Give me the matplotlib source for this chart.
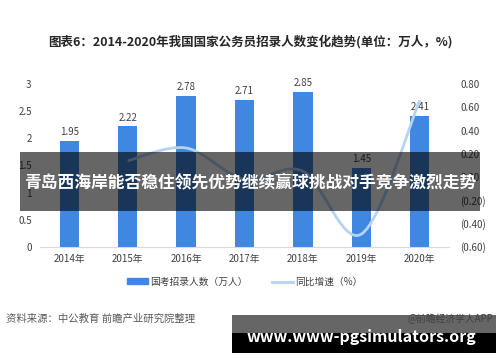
import matplotlib
matplotlib.use("Agg")
import matplotlib.pyplot as plt
import numpy as np
from matplotlib.path import Path
from matplotlib.patches import PathPatch, Rectangle
from matplotlib.ticker import FuncFormatter

plt.rcParams['font.family'] = ['Noto Sans CJK SC', 'DejaVu Sans']

# data
years = ['2014年', '2015年', '2016年', '2017年', '2018年', '2019年', '2020年']
hires = [1.95, 2.22, 2.78, 2.71, 2.85, 1.45, 2.41]
growth_years = [1, 2, 3, 4, 5, 6]          # growth rate starts from 2015
growth = [0.14, 0.25, -0.02, 0.05, -0.49, 0.66]

bar_color = '#3f87e0'
line_color = '#b5d4f5'
tick_color = '#404040'

fig = plt.figure(figsize=(5, 3.62), dpi=100)
ax = fig.add_axes([0.08, 0.318, 0.818, 0.45])
x = np.arange(len(years))
bars = ax.bar(x, hires, width=0.33, color=bar_color, zorder=2)
for xi, v in zip(x, hires):
    ax.text(xi, v + 0.07, '%.2f' % v, ha='center', va='bottom', fontsize=7, color=tick_color)

ax.set_xlim(-0.5, len(years) - 0.5)
ax.set_ylim(0, 3)
ax.set_yticks([0, 0.5, 1, 1.5, 2, 2.5, 3])
ax.set_yticklabels(['0', '0.5', '1', '1.5', '2', '2.5', '3'])
ax.set_xticks(x)
ax.set_xticklabels(years)
ax.tick_params(length=0, labelsize=7, colors=tick_color)
ax.tick_params(axis='y', pad=6)
ax.tick_params(axis='x', pad=5)
for s in ['top', 'right', 'left']:
    ax.spines[s].set_visible(False)
ax.spines['bottom'].set_color('#d9d9d9')

# smoothed growth line on the secondary axis (Catmull-Rom style bezier)
ax2 = ax.twinx()
ax2.set_ylim(-0.6, 0.8)
ax2.set_yticks([-0.6, -0.4, -0.2, 0, 0.2, 0.4, 0.6, 0.8])
ax2.yaxis.set_major_formatter(FuncFormatter(
    lambda v, p: '(%.2f)' % abs(v) if v < -1e-9 else '%.2f' % abs(v)))
ax2.tick_params(length=0, labelsize=7, colors=tick_color, pad=8)
for s in ax2.spines.values():
    s.set_visible(False)

pts = np.column_stack([growth_years, growth]).astype(float)
verts = [pts[0]]
codes = [Path.MOVETO]
n = len(pts)
for i in range(n - 1):
    p0 = pts[i - 1] if i > 0 else pts[i]
    p1 = pts[i]
    p2 = pts[i + 1]
    p3 = pts[i + 2] if i + 2 < n else pts[i + 1]
    c1 = p1 + (p2 - p0) / 6.0
    c2 = p2 - (p3 - p1) / 6.0
    verts += [c1, c2, p2]
    codes += [Path.CURVE4] * 3
ax2.add_patch(PathPatch(Path(verts, codes), facecolor='none', edgecolor=line_color,
                        lw=2, zorder=3))

# legend
ax.legend(handles=[Rectangle((0, 0), 1, 1, color=bar_color),
                   plt.Line2D([0], [0], color=line_color, lw=2)],
          labels=['国考招录人数（万人）', '同比增速（%）'],
          loc='upper center', bbox_to_anchor=(0.5, -0.13), ncol=2, frameon=False,
          fontsize=7, handlelength=2.2, handleheight=0.6, columnspacing=2.5,
          handletextpad=0.2, labelcolor=tick_color)

fig.text(0.5, 0.884, '图表6：2014-2020年我国国家公务员招录人数变化趋势(单位：万人，%)',
         ha='center', va='center', fontsize=9, fontweight='bold', color='#262626')
fig.text(0.012, 0.119, '资料来源：中公教育 前瞻产业研究院整理', ha='left', va='center',
         fontsize=7.5, color='#595959')

# overlay banners
fig.patches.append(Rectangle((0.04, 1 - 211 / 362), 0.92, 59 / 362, transform=fig.transFigure,
                             facecolor='black', alpha=0.6, zorder=5))
fig.text(0.5, 1 - 182 / 362, '青岛西海岸能否稳住领先优势继续赢球挑战对手竞争激烈走势',
         ha='center', va='center', fontsize=12.1, fontweight='bold', color='white', zorder=6)

fig.patches.append(Rectangle((232 / 500, 1 - 333 / 362), 264 / 500, 18 / 362, transform=fig.transFigure,
                             facecolor='#666666', zorder=5))
fig.patches.append(Rectangle((232 / 500, 1 - 353 / 362), 264 / 500, 20 / 362, transform=fig.transFigure,
                             facecolor='black', zorder=5))
fig.text(0.815, 0.119, '@前瞻经济学人APP', ha='left', va='center', fontsize=7,
         color='#404040', zorder=6)
fig.text(361 / 500, 1 - 337 / 362, 'www.www-pgsimulators.org', ha='center', va='center',
         fontsize=11.5, fontweight='bold', color='white', zorder=6)

fig.savefig('out.png', dpi=100)
